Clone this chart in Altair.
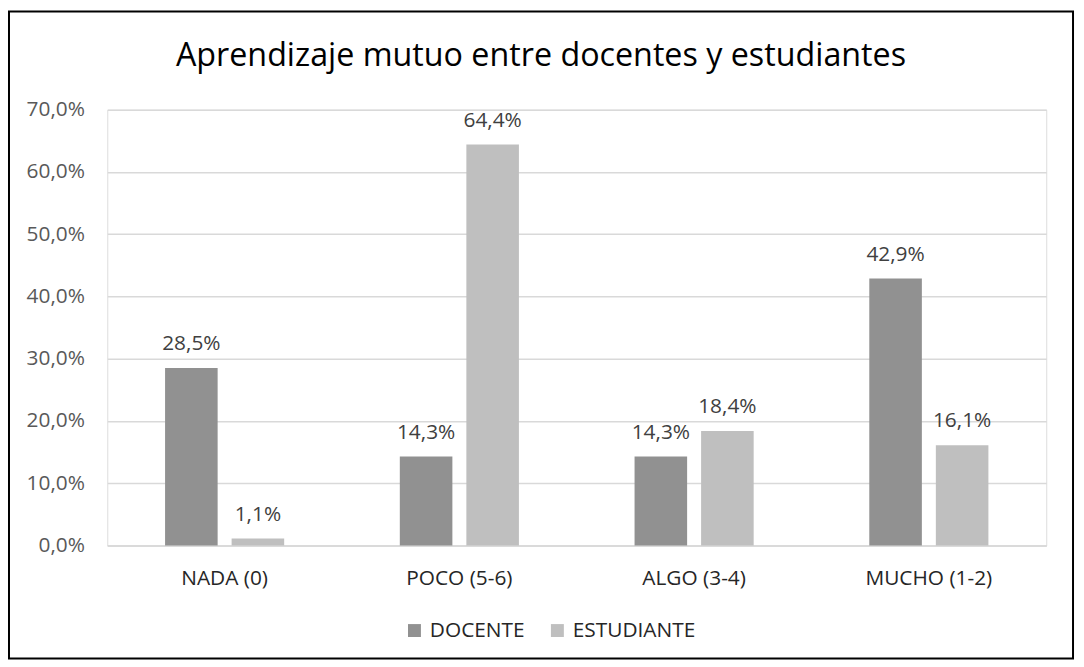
import altair as alt
import pandas as pd

categories = ["NADA (0)", "POCO (5-6)", "ALGO (3-4)", "MUCHO (1-2)"]
series = ["DOCENTE", "ESTUDIANTE"]
docente = [0.285, 0.143, 0.143, 0.429]
estudiante = [0.011, 0.644, 0.184, 0.161]
y_ticks = [0.0, 0.1, 0.2, 0.3, 0.4, 0.5, 0.6, 0.7]
title_text = "Aprendizaje mutuo entre docentes y estudiantes"

rows = []
for c, d, e in zip(categories, docente, estudiante):
    rows.append({"cat": c, "serie": "DOCENTE", "v": d})
    rows.append({"cat": c, "serie": "ESTUDIANTE", "v": e})
df = pd.DataFrame(rows)

FONT = "Open Sans"
FS = 21
W, H = 946, 439

x_enc = alt.X("cat:N", sort=categories, title=None,
              scale=alt.Scale(paddingInner=0.4926, paddingOuter=0.2463),
              axis=alt.Axis(labelAngle=0, labelFont=FONT, labelFontSize=FS,
                            labelColor="#262626", labelPadding=22, ticks=False,
                            domainColor="#d9d9d9", domainWidth=1.5))
xoff = alt.XOffset("serie:N", sort=series,
                   scale=alt.Scale(paddingInner=0.21, paddingOuter=0))
y_enc = alt.Y("v:Q", title=None,
              scale=alt.Scale(domain=[0, 0.7], nice=False),
              axis=alt.Axis(values=y_ticks, labelFont=FONT, labelFontSize=FS,
                            labelColor="#595959", labelPadding=23, ticks=False,
                            domain=False, grid=True, gridColor="#d9d9d9",
                            gridWidth=1.5,
                            labelExpr="replace(format(datum.value, '.1%'), '.', ',')"))
color = alt.Color("serie:N", sort=series, title=None,
                  scale=alt.Scale(domain=series, range=["#919191", "#bfbfbf"]),
                  legend=alt.Legend(orient="none", legendX=299, legendY=514,
                                    direction="horizontal", symbolType="square",
                                    symbolSize=170, symbolStrokeWidth=0,
                                    labelFont=FONT, labelFontSize=FS,
                                    labelColor="#262626", columnPadding=22,
                                    labelOffset=5))

base = alt.Chart(df)
bars = base.mark_bar().encode(x=x_enc, xOffset=xoff, y=y_enc, color=color)
labels = base.transform_calculate(
    lbl="replace(format(datum.v, '.1%'), '.', ',')"
).mark_text(font=FONT, fontSize=FS, color="#404040", baseline="alphabetic", dy=-18).encode(
    x=alt.X("cat:N", sort=categories), xOffset=xoff, y="v:Q", text="lbl:N")

one = pd.DataFrame({"k": [0]})
border = alt.Chart(one).mark_rect(
    fill=None, stroke="black", strokeWidth=2, clip=False
).encode(x=alt.value(-99), x2=alt.value(973), y=alt.value(-99), y2=alt.value(553))

title = alt.Chart(one).mark_text(
    font=FONT, fontSize=32.5, color="black", align="center", baseline="alphabetic"
).encode(x=alt.value(437), y=alt.value(-44), text=alt.value(title_text))

chart = alt.layer(bars, labels, border, title).properties(
    width=W, height=H,
    padding={"left": 100, "top": 100, "right": 30, "bottom": 120},
    autosize=alt.AutoSizeParams(type="none"),
).configure_view(stroke=None).configure(background="white")

chart.save("out.html", embed_options={"renderer": "svg", "actions": False})
